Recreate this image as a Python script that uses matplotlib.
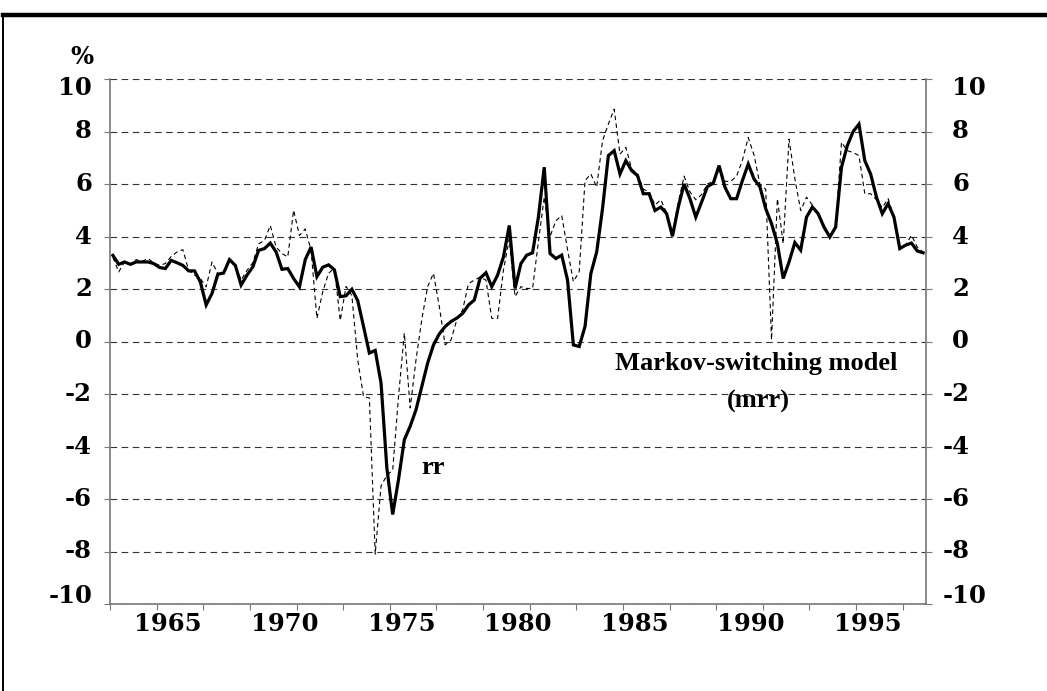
import matplotlib.pyplot as plt
from matplotlib.lines import Line2D

# quarterly data, 1962Q3 - 1997Q2
start_year = 1962.5
rr = [3.28, 2.94, 3.03, 2.94, 3.03, 3.03, 3.03, 2.97, 2.82, 2.78,
      3.09, 3.0, 2.9, 2.69, 2.69, 2.27, 1.39, 1.83, 2.56, 2.61,
      3.12, 2.9, 2.15, 2.53, 2.84, 3.47, 3.54, 3.75, 3.41, 2.75,
      2.78, 2.4, 2.08, 3.12, 3.6, 2.47, 2.83, 2.92, 2.73, 1.71,
      1.74, 1.99, 1.56, 0.57, -0.44, -0.34, -1.58, -4.82, -6.59, -5.26,
      -3.74, -3.23, -2.6, -1.71, -0.82, -0.13, 0.29, 0.57, 0.76, 0.89,
      1.07, 1.39, 1.58, 2.41, 2.62, 2.09, 2.53, 3.22, 4.42, 2.02,
      2.97, 3.29, 3.38, 4.74, 6.64, 3.35, 3.16, 3.29, 2.34, -0.13,
      -0.19, 0.57, 2.59, 3.41, 5.06, 7.08, 7.27, 6.38, 6.89, 6.51,
      6.32, 5.63, 5.63, 4.99, 5.12, 4.87, 4.01, 5.12, 6.0, 5.44,
      4.74, 5.31, 5.9, 6.03, 6.7, 5.88, 5.44, 5.44, 6.13, 6.76,
      6.19, 5.9, 5.06, 4.49, 3.73, 2.4, 3.03, 3.77, 3.48, 4.74,
      5.12, 4.87, 4.36, 3.98, 4.36, 6.64, 7.46, 8.0, 8.28, 6.89,
      6.38, 5.5, 4.87, 5.25, 4.74, 3.54, 3.67, 3.75, 3.45, 3.38]
mrr = [3.2, 2.65, 3.03, 2.95, 3.12, 3.05, 3.16, 3.0, 2.9, 2.97,
       3.24, 3.41, 3.5, 2.71, 2.53, 2.4, 2.08, 3.03, 2.59, 2.6,
       3.09, 2.9, 2.34, 2.71, 3.0, 3.72, 3.85, 4.42, 3.6, 3.35,
       3.22, 5.0, 4.04, 4.29, 3.47, 0.88, 1.9, 2.6, 2.8, 0.8,
       2.1, 1.75, -0.7, -2.1, -2.15, -8.1, -5.5, -5.1, -4.9, -2.1,
       0.32, -2.53, -0.7, 0.85, 2.09, 2.6, 1.33, -0.13, 0.06, 0.82,
       1.2, 2.2, 2.34, 2.45, 2.34, 0.88, 0.88, 2.72, 3.9, 1.71,
       2.09, 2.02, 2.02, 3.8, 5.5, 4.0, 4.6, 4.8, 3.5, 2.28,
       2.66, 6.13, 6.38, 5.88, 7.65, 8.28, 8.85, 7.14, 7.4, 6.57,
       6.4, 5.8, 5.7, 5.2, 5.4, 4.9, 4.1, 5.3, 6.3, 5.7,
       5.4, 5.6, 6.0, 6.1, 6.7, 6.1, 6.1, 6.3, 6.9, 7.77,
       7.1, 6.0, 5.8, 0.06, 5.44, 3.73, 7.71, 6.2, 4.99, 5.5,
       5.2, 4.87, 4.3, 3.98, 4.36, 7.59, 7.27, 7.2, 7.08, 5.63,
       5.63, 5.4, 5.1, 5.44, 4.74, 3.6, 3.67, 4.05, 3.6, 3.4]
year_labels = [1965, 1970, 1975, 1980, 1985, 1990, 1995]
y_ticks = [10, 8, 6, 4, 2, 0, -2, -4, -6, -8, -10]

dates = [start_year + (i + 0.5) / 4 for i in range(len(rr))]

tick_font = {'family': 'DejaVu Serif', 'weight': 'bold', 'size': 17.5}
text_font = {'family': 'Liberation Serif', 'weight': 'bold', 'size': 19}

fig = plt.figure(figsize=(10.47, 6.91), dpi=100)
ax = fig.add_axes([110 / 1047, 1 - 604 / 691, 816 / 1047, 525 / 691])

ax.plot(dates, mrr, color='black', lw=0.8, linestyle=(0, (4, 3)))
ax.plot(dates, rr, color='black', lw=2.3, solid_joinstyle='miter')

ax.set_xlim(1962.5, 1997.5)
ax.set_ylim(-10, 10)

for v in y_ticks:
    ax.axhline(v, color='#333333', lw=0.8, linestyle=(0, (6, 4)), zorder=0)

for side in ['left', 'right', 'bottom']:
    ax.spines[side].set_color('#777777')
    ax.spines[side].set_linewidth(1.2)
ax.spines['top'].set_visible(False)

# x axis: tick marks every 2 years, labels every 5
ax.set_xticks([start_year + 2 * k for k in range(18)])
ax.set_xticklabels([])
ax.set_xticks(year_labels, minor=True)
ax.set_xticklabels([str(y) for y in year_labels], minor=True, fontdict=tick_font)
ax.tick_params(axis='x', which='major', direction='out', length=4, color='#777777')
ax.tick_params(axis='x', which='minor', length=0, pad=6)

ax.set_yticks(y_ticks)
ax.set_yticklabels([])
ax.tick_params(axis='y', left=True, right=True, direction='out', length=4.3,
               color='#777777')

for v in y_ticks:
    dy = 0
    if v == 10:
        dy = -9
    elif v == -10:
        dy = 8
    ax.annotate(str(v), xy=(0, v), xycoords=('axes fraction', 'data'),
                xytext=(-18, dy), textcoords='offset pixels',
                ha='right', va='center', **tick_font)
    dx = 26 if v >= 0 else 17
    ax.annotate(str(v), xy=(1, v), xycoords=('axes fraction', 'data'),
                xytext=(dx, dy), textcoords='offset pixels',
                ha='left', va='center', **tick_font)

ax.text(1976.35, -4.8, 'rr', ha='center', va='center', **text_font)
ax.text(1990.2, -0.83, 'Markov-switching model', ha='center', va='center', **text_font)
ax.text(1990.3, -2.3, '(mrr)', ha='center', va='center', **text_font)

fig.text(82 / 1047, 1 - 57 / 691, '%', ha='center', va='center', **tick_font)

# frame lines of the original page
fig.add_artist(Line2D([3 / 1047, 1], [1 - 15 / 691] * 2, color='black', lw=3.2))
fig.add_artist(Line2D([3 / 1047] * 2, [0, 1 - 15 / 691], color='black', lw=1.4))

fig.savefig('out.png', dpi=100)
